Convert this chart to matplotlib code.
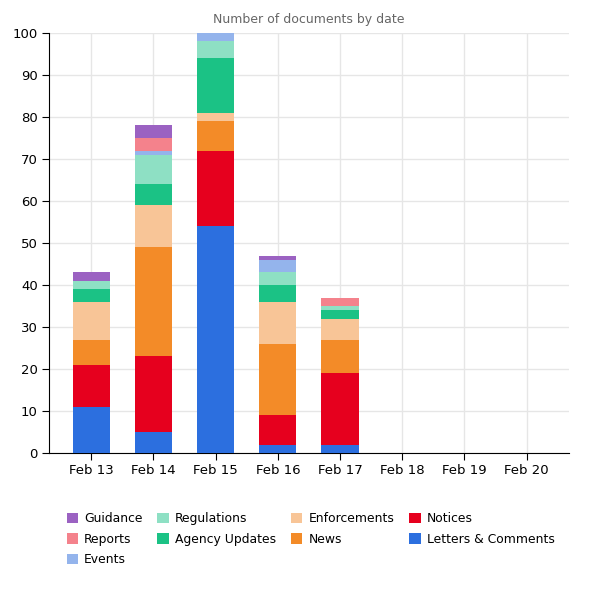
import matplotlib
matplotlib.use("Agg")
import matplotlib.pyplot as plt
import numpy as np

dates = ["Feb 13", "Feb 14", "Feb 15", "Feb 16", "Feb 17", "Feb 18", "Feb 19", "Feb 20"]

# stack order bottom -> top
series_names = ["Letters & Comments", "Notices", "News", "Enforcements",
                "Agency Updates", "Regulations", "Events", "Reports", "Guidance"]
letters = [11, 5, 54, 2, 2, 0, 0, 0]
notices = [10, 18, 18, 7, 17, 0, 0, 0]
news = [6, 26, 7, 17, 8, 0, 0, 0]
enforcements = [9, 10, 2, 10, 5, 0, 0, 0]
agency_updates = [3, 5, 13, 4, 2, 0, 0, 0]
regulations = [2, 7, 4, 3, 1, 0, 0, 0]
events = [0, 1, 2, 3, 0, 0, 0, 0]
reports = [0, 3, 0, 0, 2, 0, 0, 0]
guidance = [2, 3, 0, 1, 0, 0, 0, 0]
series_values = [letters, notices, news, enforcements, agency_updates,
                 regulations, events, reports, guidance]
colors = ["#2c6fdf", "#e6001e", "#f38b28", "#f8c597", "#1bc285",
          "#8ee0c4", "#94b4ec", "#f4828c", "#9b62c2"]

fig = plt.figure(figsize=(6, 6), dpi=100)
ax = fig.add_axes([0.0817, 0.245, 0.8663, 0.70])

x = np.arange(len(dates))
bottom = np.zeros(len(dates))
handles = []
for name, vals, c in zip(series_names, series_values, colors):
    v = np.array(vals, dtype=float)
    h = ax.bar(x, v, 0.6, bottom=bottom, color=c, label=name, zorder=3)
    handles.append(h)
    bottom += v

ax.set_xlim(-0.68, len(dates) - 1 + 0.68)
ax.set_ylim(0, 100)
ax.set_yticks(np.arange(0, 101, 10))
ax.set_xticks(x)
ax.set_xticklabels(dates)
ax.grid(True, color="#e6e6e6", linewidth=1, zorder=0)
ax.set_axisbelow(True)
for s in ["top", "right"]:
    ax.spines[s].set_visible(False)
ax.spines["left"].set_color("black")
ax.spines["bottom"].set_color("black")
ax.tick_params(axis="both", labelsize=9.5, color="black", length=5, pad=3)

fig.text(0.515, 0.967, "Number of documents by date", ha="center", va="center",
         fontsize=9, color="#666666")

leg_handles = handles[::-1]
leg_labels = series_names[::-1]
fig.legend(leg_handles, leg_labels, ncol=4, loc="upper left",
           bbox_to_anchor=(0.111, 0.146), frameon=False, fontsize=8.9,
           handlelength=0.92, handleheight=0.92, handletextpad=0.5,
           columnspacing=1.2, labelspacing=0.6, borderaxespad=0, borderpad=0)

fig.savefig("out.png", dpi=100)
